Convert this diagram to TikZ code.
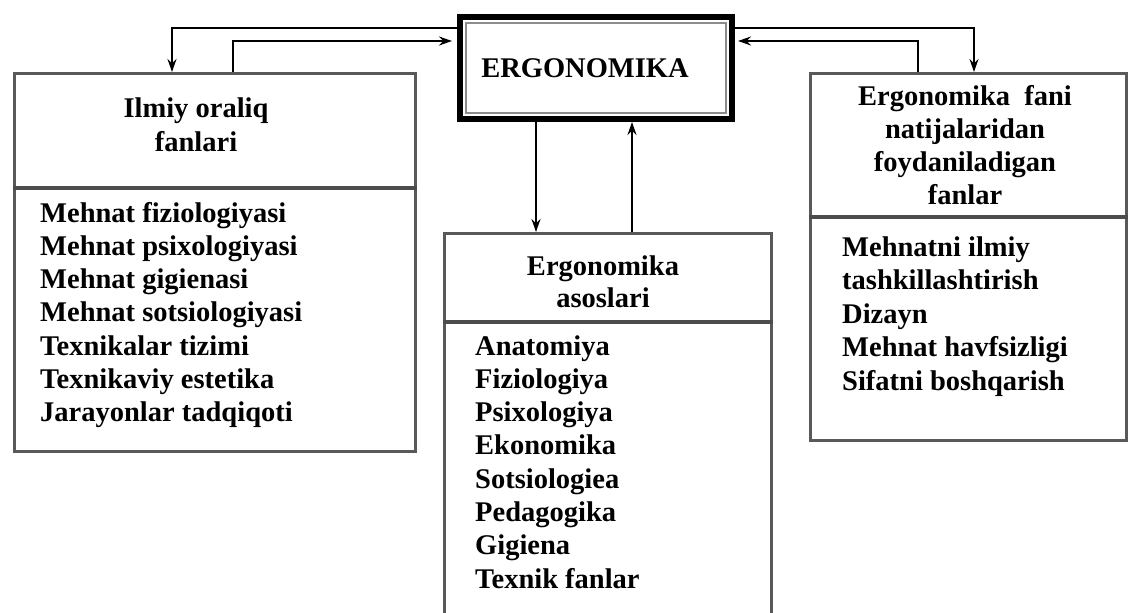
\documentclass[tikz,border=0pt]{standalone}
\usepackage{fontspec}
\setmainfont{Liberation Serif}
\usetikzlibrary{arrows.meta,calc}

\begin{document}
\begin{tikzpicture}[x=1pt,y=-1pt,
    panel/.style={rectangle, draw=black!65, line width=3pt, inner sep=0pt, anchor=north west},
    ergobox/.style={rectangle, draw=black, line width=6pt, inner sep=0pt,
      minimum width=272pt, minimum height=102pt},
    item/.style={anchor=base west, inner sep=0pt, font=\fontsize{28.5}{33}\selectfont\bfseries},
    head/.style={anchor=base, inner sep=0pt, font=\fontsize{28.5}{33}\selectfont\bfseries},
    split/.style={draw=black!70, line width=3.5pt},
    link/.style={draw=black, line width=2pt, -{Stealth[length=13pt,width=9pt]}}
  ]
    \useasboundingbox (0,0) rectangle (1135,613);
    \clip (0,0) rectangle (1135,613);

    % main box
    \node[ergobox] (ergo) at (596,68) {};
    \draw[black!45, line width=1.5pt] ($(ergo.north west)+(9,9)$) rectangle ($(ergo.south east)+(-9,-9)$);
    \node[head] (ergotitle) at (585,77) {ERGONOMIKA};

    % the three panels
    \node[panel, minimum width=401pt, minimum height=378pt] (ilmiy) at (13,72) {};
    \node[panel, minimum width=327pt, minimum height=400pt] (asos)  at (443,232) {};
    \node[panel, minimum width=316pt, minimum height=367pt] (fani)  at (809,72) {};

    \draw[split] ($(ilmiy.north west)+(0,116)$) -- ($(ilmiy.north east)+(0,116)$);
    \draw[split] ($(asos.north west)+(0,90)$) -- ($(asos.north east)+(0,90)$);
    \draw[split] ($(fani.north west)+(0,145)$) -- ($(fani.north east)+(0,145)$);

    % headers
    \node[head] (ilmiyh1) at (196,117) {Ilmiy oraliq};
    \node[head] (ilmiyh2) at (196,151) {fanlari};
    \node[head] (asosh1) at (603,275) {Ergonomika};
    \node[head] (asosh2) at (603,307) {asoslari};
    \foreach \t [count=\i from 0] in {Ergonomika\ \ fani, natijalaridan, foydaniladigan, fanlar}
      \node[head] (fanih\i) at (965,105+33.3*\i) {\t};

    % lists
    \foreach \t [count=\i from 0] in {Mehnat fiziologiyasi, Mehnat psixologiyasi, Mehnat gigienasi,
        Mehnat sotsiologiyasi, Texnikalar tizimi, Texnikaviy estetika, Jarayonlar tadqiqoti}
      \node[item] (ilmiy-\i) at (40,222+33.3*\i) {\t};
    \foreach \t [count=\i from 0] in {Anatomiya, Fiziologiya, Psixologiya, Ekonomika,
        Sotsiologiea, Pedagogika, Gigiena, Texnik fanlar}
      \node[item] (asos-\i) at (475,355+33.3*\i) {\t};
    \foreach \t [count=\i from 0] in {Mehnatni ilmiy, tashkillashtirish, Dizayn,
        Mehnat havfsizligi, Sifatni boshqarish}
      \node[item] (fani-\i) at (842,256+33.5*\i) {\t};

    % connectors
    \draw[link] ($(ergo.north west)+(0,14)$) -| ($(ilmiy.north west)+(159,0)$);
    \draw[link] ($(ilmiy.north west)+(220,0)$) |- ($(ergo.north west)+(-5,27)$);
    \draw[link] ($(ergo.north east)+(0,14)$) -| ($(fani.north west)+(165,0)$);
    \draw[link] ($(fani.north west)+(109,0)$) |- ($(ergo.north east)+(3,27)$);
    \draw[link] ($(ergo.south west)+(79,0)$) -- ($(asos.north west)+(93,0)$);
    \draw[link] ($(asos.north west)+(189,0)$) -- ($(ergo.south west)+(175,0)$);
  \end{tikzpicture}
\end{document}
